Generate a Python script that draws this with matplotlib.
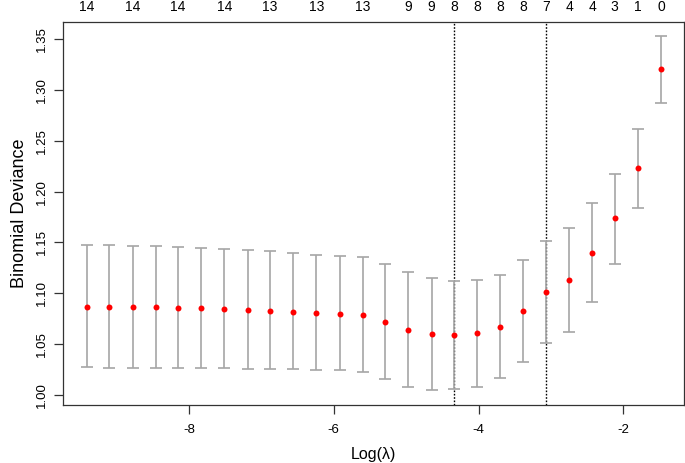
import matplotlib
matplotlib.use("Agg")
import matplotlib.pyplot as plt
import numpy as np

plt.rcParams['font.family'] = ['Liberation Sans', 'DejaVu Sans']

# Data
log_lambda = [-9.41, -9.10, -8.78, -8.46, -8.15, -7.83, -7.51, -7.19, -6.88, -6.56,
              -6.24, -5.92, -5.60, -5.29, -4.97, -4.65, -4.34, -4.02, -3.70, -3.39,
              -3.07, -2.75, -2.43, -2.12, -1.80, -1.48]
cv_mean = [1.0869, 1.0869, 1.0869, 1.0869, 1.0859, 1.0859, 1.0849, 1.0839, 1.0830, 1.0820,
           1.0810, 1.0800, 1.0784, 1.0715, 1.0643, 1.0597, 1.0587, 1.0607, 1.0672, 1.0824,
           1.1014, 1.1129, 1.1394, 1.1736, 1.2231, 1.3209]
cv_upper = [1.1476, 1.1476, 1.1467, 1.1467, 1.1457, 1.1447, 1.1437, 1.1427, 1.1420, 1.1401,
            1.1381, 1.1371, 1.1352, 1.1286, 1.1214, 1.1148, 1.1119, 1.1129, 1.1184, 1.1329,
            1.1519, 1.1640, 1.1887, 1.2178, 1.2621, 1.3533]
cv_lower = [1.0273, 1.0263, 1.0263, 1.0263, 1.0263, 1.0263, 1.0263, 1.0253, 1.0253, 1.0253,
            1.0243, 1.0243, 1.0223, 1.0157, 1.0082, 1.0046, 1.0056, 1.0082, 1.0167, 1.0322,
            1.0512, 1.0617, 1.0912, 1.1289, 1.1841, 1.2877]
nzero = [14, 14, 14, 14, 14, 14, 14, 14, 13, 13, 13, 13, 13, 11, 9, 9, 8, 8, 8, 8,
         7, 4, 4, 3, 1, 0]
log_lambda_min = -4.34
log_lambda_1se = -3.07
x_ticks = [-8, -6, -4, -2]
y_ticks = [1.00, 1.05, 1.10, 1.15, 1.20, 1.25, 1.30, 1.35]

fig = plt.figure(figsize=(6.85, 4.63), dpi=100)
ax = fig.add_axes([63/685, 58/463, 621/685, 383/463])

mean = np.array(cv_mean)
yerr = [mean - np.array(cv_lower), np.array(cv_upper) - mean]
ax.errorbar(log_lambda, cv_mean, yerr=yerr, fmt='none', ecolor='#a6a6a6',
            elinewidth=1.2, capsize=4.3, capthick=1.2, zorder=2)
ax.plot(log_lambda, cv_mean, 'o', color='#ff0000', markersize=4.3,
        markeredgewidth=0, zorder=3)
ax.axvline(log_lambda_min, color='black', linestyle=(0, (1.2, 1.2)), lw=1.0, zorder=1)
ax.axvline(log_lambda_1se, color='black', linestyle=(0, (1.2, 1.2)), lw=1.0, zorder=1)

ax.set_xlim(-9.74, -1.163)
ax.set_ylim(0.990, 1.367)
ax.set_xticks(x_ticks)
ax.set_xticklabels([str(t) for t in x_ticks])
ax.set_yticks(y_ticks)
ax.set_yticklabels(['%.2f' % t for t in y_ticks], rotation=90, va='center')

for sp in ax.spines.values():
    sp.set_color('#333333')
    sp.set_linewidth(0.9)
ax.tick_params(direction='out', length=6.5, width=0.9, color='#333333',
               labelsize=9.5, pad=7)
ax.tick_params(axis='y', pad=4)

ax.set_xlabel('Log(λ)', fontsize=11.5, labelpad=8)
ax.set_ylabel('Binomial Deviance', fontsize=13, labelpad=6)

# top labels: number of nonzero coefficients
top_texts = []
for xv, n in zip(log_lambda, nzero):
    t = ax.annotate(str(n), xy=(xv, 1.0), xycoords=('data', 'axes fraction'),
                    xytext=(0, 10.8), textcoords='offset points',
                    ha='center', va='center', fontsize=10)
    top_texts.append(t)

fig.canvas.draw()
renderer = fig.canvas.get_renderer()
last_x1 = -1e9
gap = 12
for t in top_texts:
    bb = t.get_window_extent(renderer)
    if bb.x0 < last_x1 + gap:
        t.set_visible(False)
    else:
        last_x1 = bb.x1

fig.savefig('out.png', dpi=100)
